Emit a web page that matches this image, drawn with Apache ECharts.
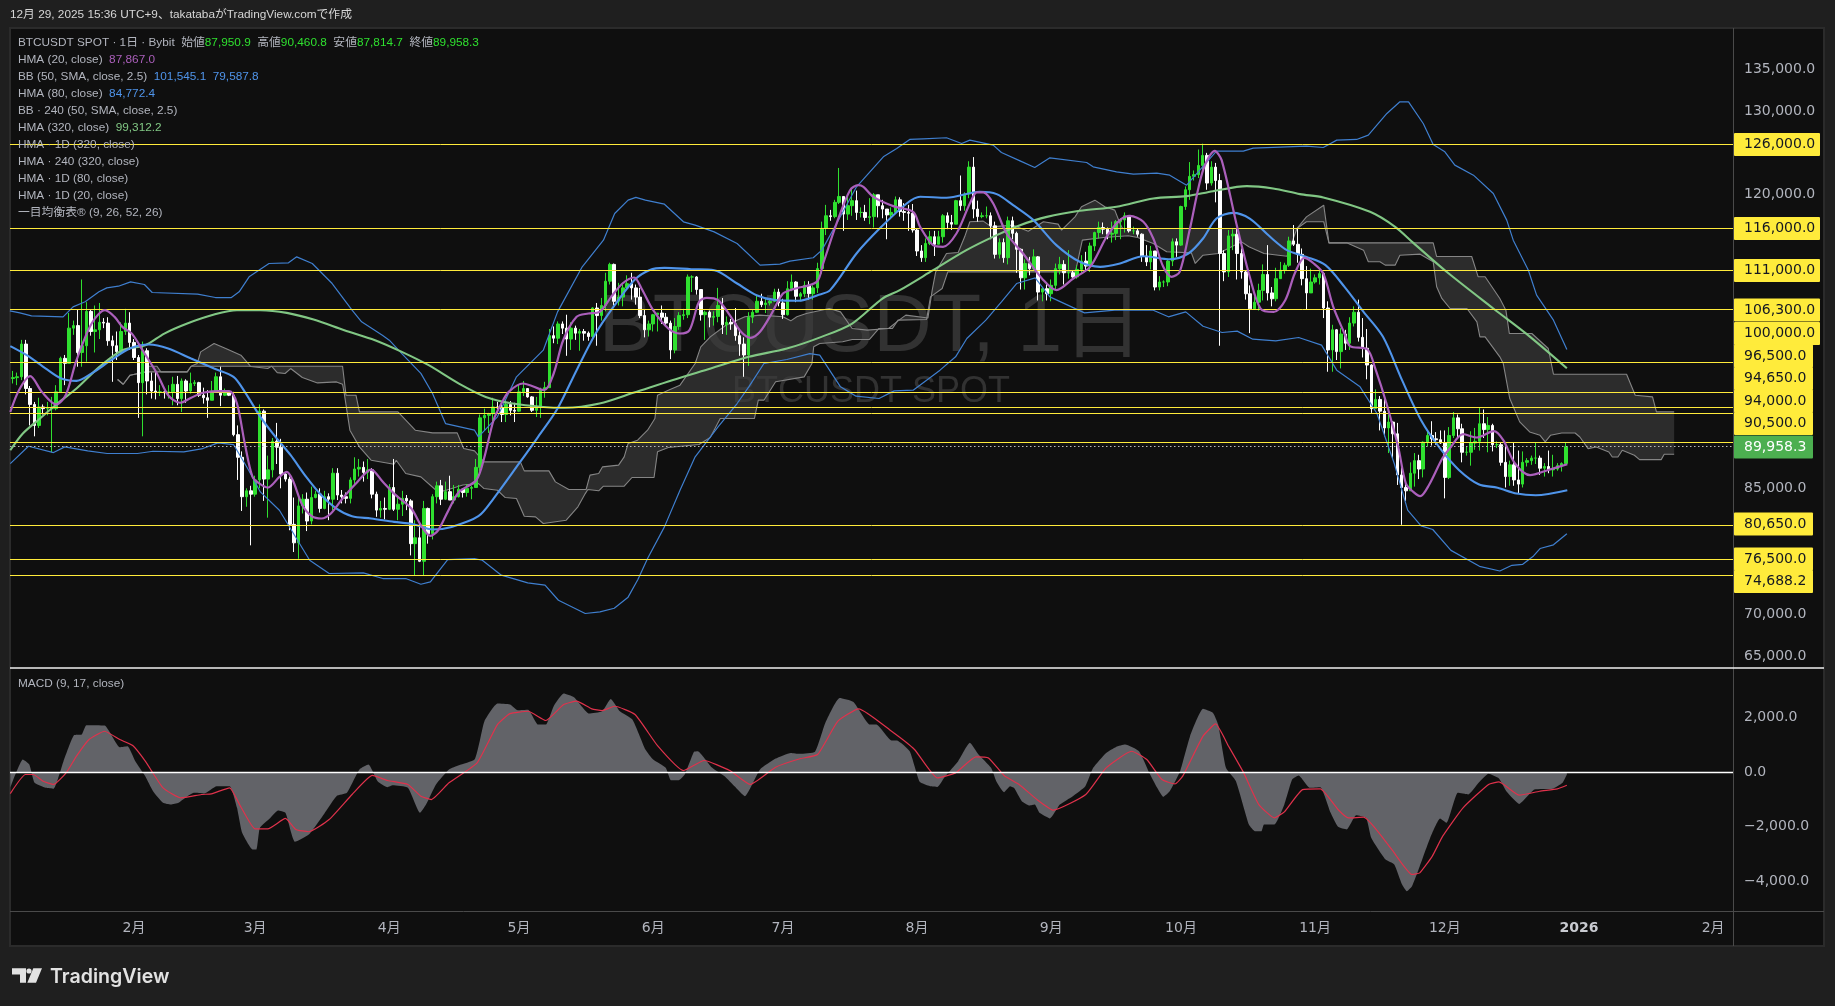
<!DOCTYPE html>
<html>
<head>
<meta charset="utf-8">
<title>BTCUSDT 1D</title>
<script src="https://cdn.jsdelivr.net/npm/echarts@6/dist/echarts.min.js"></script>
<style>html,body{margin:0;padding:0;background:#1f1f1f}#main{width:1835px;height:1006px}</style>
</head>
<body>
<div id="main"></div>
<script>
// days are counted from 2025-01-01 = 0
var firstDay = 2;
var firstOpen = 96900;
var closes = [
98100,98200,98300,102200,96900,95000,92500,94700,94500,94500,94500,96500,100500,99900,104100,104400,101200,102000,106100,103700,103900,104800,104700,102600,102000,101300,103700,104700,102400,
100600,97600,101400,97800,96600,96500,96500,96400,96500,97400,95700,97800,96600,97500,97600,96100,95800,95500,96600,98300,96100,96500,96100,91400,88700,84000,84700,84300,
86000,94200,86100,87200,90600,89900,86700,86100,80700,78500,82900,83700,81100,83900,84300,82600,84000,83700,86800,84200,84000,83800,86000,87300,87500,86900,87200,84300,82400,82600,82500,
85100,82500,83100,83800,83500,78400,79100,76300,82600,79600,84000,85300,83700,84600,83600,84000,84900,84500,85000,85100,87500,93400,93700,93900,94700,94600,93800,95000,94300,94200,
96500,96900,95900,94300,94700,96800,97000,103200,102900,104600,104100,102800,104100,103500,103700,103500,103100,106500,105600,106800,109700,111700,107300,107800,108900,109400,108900,107800,105600,103900,104600,
105700,105900,105400,104700,101500,104300,105600,105700,110200,110200,108700,105700,106000,105400,105500,106800,104500,104800,104600,103200,102200,100900,105400,106000,107300,106900,107100,107300,108400,107100,
105700,108800,109600,107900,108200,109200,108200,108900,111200,116000,117500,117400,119100,119800,117700,118700,119300,117900,117900,117300,117400,120000,118700,118300,117600,117900,119400,118000,117900,117800,115800,
113300,112500,114200,115000,114100,115000,117500,116700,116500,119300,118700,120100,123300,118300,117400,117500,117500,116300,112900,114300,112500,116900,115400,113500,110100,111800,111200,112600,108400,108800,108200,
109200,111200,111700,110700,110700,110200,111100,112100,111500,113900,115500,116100,115900,115300,115400,116800,117000,117500,115700,115700,115300,112700,112000,113300,109000,109600,109600,112100,114400,114000,
118600,120600,122200,122400,123500,124700,121400,123300,121700,113000,110800,115100,115300,113000,110800,108200,106400,107200,108600,110500,108300,107600,110000,111000,111600,114500,114100,112900,110000,108300,109600,
110100,110600,106500,101500,103900,101300,103400,102300,104700,106000,103000,101700,99700,94500,95600,94200,92200,92900,91500,86600,85100,84700,86800,88300,87300,90500,91300,90900,90800,90400,
86300,91300,93400,92100,89300,89300,90400,90600,92700,92000,92500,90200,90200,88100,86400,87800,86000,85500,88100,88300,88600,88600,87400,87600,87200,87300,87700,87950.9,89958.3
];
var highs = [
98900,99000,98800,102700,102700,97200,95300,95800,95000,95300,95900,97300,100700,100900,105900,105000,106300,109900,107200,106300,106800,107100,105300,105400,103200,103700,104800,106400,106000,
102800,100900,102500,101700,98800,99000,97300,96700,97300,98300,98400,98100,98000,98800,97900,97700,97000,96700,97800,98800,99500,96900,96700,96500,92500,89400,85000,85300,
86500,95000,94400,88900,91000,92800,90900,86800,86400,83900,84000,84300,84500,85200,84700,85000,84700,84400,87400,87400,84800,84500,86300,88700,88500,88200,88500,87400,84600,83500,83900,
85500,88500,83900,84700,84200,83700,81200,80800,83500,82700,84300,85800,86000,85800,86500,85400,85400,85000,85500,85300,88500,93800,94500,94000,95800,95300,95200,95600,95400,95200,
97400,97800,96900,96000,95900,97000,97700,104000,104300,104900,104900,105700,104800,104400,104000,104000,103700,106600,107100,107700,110700,111900,111800,109500,109300,110400,110700,109300,108900,106300,105000,
105800,105900,106800,105900,105000,105300,106000,106400,110500,110400,110300,108400,106200,106200,106100,108900,107700,105500,105200,106500,104000,103000,106000,106300,108000,108200,107700,107500,108800,108800,
107600,109700,110500,109700,108400,109700,109700,109200,111900,116800,118800,118200,119400,123200,119600,120000,120800,120500,118500,118800,119600,120200,120000,119400,118000,118500,119800,119700,119000,118800,118900,
116000,114000,114800,115700,115700,115700,117700,117900,117600,119400,122300,120300,124000,124500,119300,117900,118600,117900,116800,114800,114800,117400,117400,115600,113600,112300,112600,113500,112700,108900,109500,
109900,111800,112600,112200,113400,111000,111600,112800,113200,114300,115600,116800,116700,116100,116800,117000,117200,117900,117500,116200,116000,115400,114000,113900,113300,110300,109800,112400,114800,114800,
118700,121000,123900,122900,125400,126100,125000,124000,123800,122500,113400,115800,115900,116000,113600,111000,109200,107900,109400,111700,114000,109000,111300,112000,111900,115000,116400,116000,113600,111500,111200,
110500,111200,110800,107300,104500,104000,104100,103900,105400,106700,107500,105300,104000,99800,96800,96000,96000,93800,93000,92800,87500,85600,88100,89200,89000,90600,91900,93000,91700,91900,
91900,92300,94100,93800,92700,90000,91800,92200,94600,94400,93500,92700,90600,90500,90000,88300,90400,89500,89400,88600,88900,90500,88900,88000,89500,89000,88000,88100,90460.8
];
var lows = [
96100,97500,97300,97900,96200,92500,91200,92200,93800,93700,89300,94300,96400,97300,99900,103300,99500,99500,100100,103200,101200,102800,104100,102000,97700,100300,100900,103300,101500,
100300,93400,91200,96200,95700,95600,96000,95700,95700,94900,94900,94100,95200,96300,97200,95900,95100,93400,95500,96400,94800,96000,96000,91200,86000,82300,82800,78200,
84000,85000,83500,81500,86300,87900,85000,85800,80000,77400,76600,82000,79900,80700,83800,82100,82500,81200,82400,83600,83200,83200,83200,85300,86400,85800,86100,83800,81600,81500,81300,
82400,82300,81200,81700,82400,77000,74600,76200,74600,78400,78900,83200,83000,83600,83600,83200,83900,83900,84000,83700,85100,87000,91900,91600,92900,93900,92900,92900,93700,92900,
94100,96000,95800,94100,93500,93400,95800,97000,102300,102200,103400,100800,101500,102700,101400,102600,102600,102900,102000,105000,106100,109300,106800,106800,106700,108800,107500,106900,105300,103000,103100,
103700,103700,104600,104400,100400,101100,103900,105100,105300,108400,108100,105000,102700,104200,104400,104800,103400,103300,103900,102600,100800,98300,99600,104700,105900,106600,105900,106800,107200,106700,
105200,105600,108500,107200,107300,107800,107500,107500,108300,110600,115200,116900,117200,118900,115700,117000,117500,117000,117300,116900,116500,116100,117300,117200,114700,117100,117800,117400,116900,115700,115500,
112700,112000,112000,114000,112700,114100,114300,115900,115800,116500,118100,118100,119600,117200,116800,117200,117200,114700,112400,112400,111900,111700,114700,110700,108700,108700,110400,110900,107400,107300,107400,
107300,108600,110500,109300,110000,109900,110000,110700,110800,110800,113300,114800,115300,114700,114300,114600,114700,115500,115500,115300,115000,112000,111500,111100,108600,108600,109000,109100,111500,112600,
113900,118200,119400,121700,122000,123000,120600,121100,119100,102000,109700,110200,113400,109900,110000,107500,103500,106300,106200,107400,107400,106700,107300,110500,110600,111400,113900,111900,109200,106300,108400,
109400,109300,105300,98900,98900,100300,99300,101500,101500,104300,102500,100600,98000,94000,94500,91900,91200,89200,88600,85400,80650,83500,84700,85200,86100,86300,90000,90100,90200,90300,
83800,86100,91000,90900,88100,88900,87700,89600,89500,91000,89300,89400,89800,87700,85100,85300,85300,84400,85100,87600,87800,87900,86600,86400,86800,86400,87100,87000,87814.7
];

// indicator readings as [day, price]
var hma20 = [[2.4,94100],[4.4,96700],[7,98370],[9.7,96500],[13,95000],[15.2,96100],[17.7,100275],[21.2,104650],[24.3,106240],[26.5,105440],[28.3,104250],[30.5,103450],[33.2,101270],[36.3,98700],[38.9,96100],[41.6,95200],[44.2,95800],[46.9,96400],[50.4,96600],[53,96600],[54.8,95100],[56.6,90340],[58.4,86360],[60.2,85490],[61.9,85090],[64.6,86360],[66.3,86960],[67.7,85960],[69.9,83000],[72.1,81670],[74.3,81400],[76.5,82000],[79.2,83780],[82.3,85570],[85.8,87240],[88.5,85770],[91.1,84370],[95.1,82590],[97.3,80600],[99.5,79330],[101.3,80000],[103.5,82190],[106.1,84570],[110.1,85960],[111.9,88550],[114.1,93120],[115.9,95100],[117.6,96500],[120.9,97500],[125.8,96700],[128,98690],[130.2,102660],[133.3,105450],[136,105850],[138.6,106040],[141.3,107830],[143.9,109420],[146.6,110140],[148.3,108830],[151,106240],[154.5,104060],[157.2,103460],[159.4,103860],[161.6,107240],[163.4,107710],[166,107440],[168.7,105650],[171.3,103660],[173.5,102940],[175.7,103660],[178.4,105850],[181,108230],[183.4,108750],[188.8,109620],[190.3,111810],[193.4,116580],[196.5,120550],[198.4,121150],[199.6,120950],[201.9,119760],[206.5,118650],[211.1,117970],[212.7,116180],[215.7,114000],[218,113800],[221.1,115390],[224.2,118960],[225.8,120280],[227.3,120280],[229.6,118960],[232.7,115390],[236.5,113000],[241.2,109820],[244.2,108630],[248.1,110020],[252,111410],[255.8,114990],[258.9,116980],[261.2,117490],[264.3,116780],[266.6,114790],[268.9,111410],[270.8,110220],[272.7,110815],[275,115790],[278.1,122940],[280.8,125240],[282.4,124130],[285.8,116580],[288.9,110220],[291.4,106440],[294.4,106040],[297.1,107430],[299.3,110610],[301.5,112480],[303.7,111810],[305.9,110610],[308.2,106640],[310.8,103460],[312.1,101950],[316.1,101550],[317.9,99290],[320.5,95110],[323.2,89950],[325,85570],[326.7,84580],[328.3,84060],[330.3,85370],[333.4,88550],[335.1,89750],[338.2,91450],[341.3,91060],[345.3,91810],[347.5,90740],[350.2,87960],[353.7,86570],[357.7,87160],[362.3,87867]];
var hma80 = [[2.4,101950],[6.2,100870],[10.6,99280],[14.2,98090],[17.7,97810],[21.2,98700],[25.7,100275],[30,101670],[34.5,102140],[38.9,101670],[44.2,100470],[49.5,99280],[54,98290],[56.6,96500],[60.2,93520],[63.7,91130],[67.2,88950],[70.8,86360],[74.3,84180],[77.8,82590],[81.4,81670],[85.8,81400],[91.1,81000],[95.5,80720],[100,80080],[104.4,80400],[110.6,81670],[114.1,83780],[120,87960],[124.4,91140],[128.9,94520],[133.3,99090],[137.7,103460],[142.1,106840],[146.6,109820],[150.1,111010],[153.6,111290],[159.8,111130],[165.1,111010],[170.4,109420],[174.9,108030],[179.3,107435],[184.6,107360],[189,108030],[191.9,108630],[198,113000],[203.4,116000],[209.6,118960],[212.7,119760],[218.8,119640],[226.5,120360],[230.4,120080],[234.2,118770],[238.9,116980],[244.2,114000],[249.6,112010],[254.3,111410],[258.9,111810],[264.3,112680],[270.4,112320],[274.7,113000],[278.1,114790],[281.2,117170],[285,117850],[288.9,117170],[293.6,114990],[297.5,113400],[302,112600],[306.4,111610],[310.8,109020],[315.2,106040],[319.7,103060],[324.1,97900],[328.5,93120],[332.9,89750],[337.3,87160],[341.8,85490],[346.2,85060],[350.6,84380],[355,84180],[362.3,84772]];
var hma320 = [[2.4,89540],[5.3,91530],[8.8,93120],[13.3,95110],[17.7,96900],[23,99480],[28.3,101470],[33.6,102060],[38,103450],[43.3,104650],[49.5,105720],[54.8,106240],[60.2,106240],[66.3,105920],[72.5,105120],[79.6,103850],[86.7,102660],[92.9,101270],[99.1,99680],[106.1,97490],[112.3,95900],[118.5,95110],[125.6,94700],[130.6,94600],[138.6,95110],[146.6,96420],[155.4,97900],[164.3,99290],[173.1,100680],[181.9,101670],[189.9,103060],[197,104650],[204,107630],[208,108630],[215.7,111010],[223.4,113400],[230.4,115190],[235.8,116380],[242,117370],[249.6,118090],[258.1,118570],[266.6,119560],[274.3,119840],[280.4,120430],[288.2,121030],[294.3,120750],[300.5,120080],[305.9,119680],[316.7,117970],[322.5,116180],[326.7,114270],[334.4,110820],[345.2,106440],[353.7,103060],[362.2,99312]];
var bbUpper = [[2.3,106160],[4.6,105925],[7.3,105570],[14.6,105450],[16.9,106640],[19.7,107240],[22.9,108430],[24.7,108905],[27.4,109100],[30.2,109620],[33.4,109300],[35.2,108350],[45.7,108150],[49.8,107750],[53.5,107750],[55.3,108430],[57.6,110220],[62.2,111810],[66.7,111890],[68.6,112600],[72.2,111810],[76.8,109420],[81.4,106240],[83.6,104850],[88.4,103260],[90,102660],[92.9,101070],[97.3,98700],[100,96300],[103,92720],[109.7,91930],[110.6,91130],[115,93520],[119.4,98290],[125.6,101470],[128.9,106040],[134.6,111410],[139.5,114590],[142.1,117770],[145.2,119360],[147,119700],[149.2,119360],[153.6,118880],[158,116780],[160.7,116380],[165.1,115580],[170.4,114190],[175.7,111610],[180.3,111730],[182.6,112090],[188,112490],[190,113400],[193.4,116580],[198,120950],[201.1,122740],[204.2,124530],[207.3,125520],[210.3,126600],[213.4,126680],[218.8,126800],[222.3,126120],[224.2,126520],[229.6,125920],[231.5,125050],[235.8,124050],[239.2,123260],[242.7,124410],[251.2,123850],[252.7,123340],[258.1,122740],[262,122460],[267.4,122580],[270.4,122340],[274.3,121150],[281.2,125200],[287.4,125200],[289.7,125560],[295.9,125680],[302,125800],[305.9,125640],[309,126520],[313.6,126600],[316.3,127110],[320.6,129700],[323.6,131090],[325.6,131090],[329,128500],[331.3,126000],[334,125130],[336.3,123540],[340.6,122340],[345.2,120160],[348.3,116980],[349.8,114590],[353.3,111010],[355.2,108030],[359.1,105050],[362.2,101545]];
var bbLower = [[2.4,87950],[6.6,90020],[12.4,89260],[15,89940],[20.3,89460],[24.8,89150],[31.8,89150],[35.4,89420],[42.5,89340],[46.9,89740],[50.4,90420],[54,90220],[57.5,87160],[60.2,84570],[64.6,82390],[68.1,79410],[71.6,76420],[76.1,74840],[84,74920],[88.5,74240],[93.8,74240],[97.3,73560],[99.5,73840],[103.5,76500],[109.7,76620],[111.5,76420],[115.9,74640],[122,73720],[126,73450],[129.1,71650],[135.3,70070],[138.7,70270],[142,70700],[145.2,72020],[147.5,74160],[149.7,76630],[153.6,80400],[157.2,84780],[160.7,88750],[166,92330],[170.4,95110],[173.1,97100],[176.6,99880],[181.9,100360],[187.2,101070],[189.5,100880],[194.3,97100],[197.9,95990],[203.2,95710],[206.7,96620],[211.1,96700],[217.3,99090],[220.9,100680],[223.5,102860],[227.9,105050],[231.5,107240],[235,109420],[239.3,110100],[242.7,107830],[250.7,105920],[257.7,106240],[266.6,106240],[270.1,105450],[274.1,106040],[278.1,104330],[282.5,103580],[286,103740],[289.6,102780],[294.9,102590],[300.2,102980],[305.5,102070],[309,99090],[314.4,97100],[318.3,93920],[322.3,87960],[325.4,82390],[328.5,80520],[331.2,80090],[335.4,77600],[342,75700],[346.7,75140],[349.5,75820],[352,75940],[354.5,76940],[356,77820],[359.1,78260],[362.2,79587]];
var cloudTop = [[27.2,97970],[28.5,97410],[30.1,98490],[33.6,98880],[34.1,99560],[36.3,99560],[37.2,98880],[43.3,98880],[44.2,99560],[45.6,99880],[46.4,101270],[49.5,102260],[52.2,101670],[55.7,100870],[57.9,99560],[79.2,99560],[80,96100],[82.3,96100],[83.1,94110],[92,94110],[96,91930],[100,91610],[105.7,91610],[107.2,89740],[109.7,89460],[111.9,88150],[120.3,88150],[121.2,87080],[126.9,87080],[128.4,85770],[131.5,84860],[135.5,84860],[136.4,86570],[138.4,86770],[139.3,87560],[143,87760],[144.3,88750],[145.2,90340],[147.4,90740],[149.7,91930],[151.4,93320],[152,96100],[154.5,96700],[157.2,97300],[160.7,99880],[162,101870],[164.2,103060],[167.8,104450],[172.2,105450],[175.7,105650],[181,105450],[182.8,104970],[184.2,105450],[186.4,105850],[191.7,106440],[194.3,106040],[197,104060],[200.5,103860],[205.4,104060],[207.6,104970],[209.4,105650],[214.5,105300],[215.5,108630],[216.3,110800],[218.8,113000],[221.5,113120],[223,114990],[224.2,116780],[227.3,116860],[229.2,116180],[234.2,116380],[237.7,115660],[241.2,116780],[244.6,116500],[245.4,115790],[248.5,117370],[250,118570],[253.1,119360],[255.4,118570],[257.7,118170],[258.9,116580],[259.5,115990],[299.8,115980],[302,117370],[306,118760],[307.2,114270],[331.3,114270],[332.1,112640],[340.2,112640],[341.7,110220],[343.3,110220],[346.7,107640],[348.1,106240],[348.9,103460],[354.1,103460],[357.9,101670],[359.1,98600],[376,98600],[378,96100],[382,95900],[382.9,94110],[387,94110]];
var cloudBottom = [[27.2,97970],[28.5,97410],[30.1,98490],[33.6,98880],[43.3,98880],[44.2,99560],[57.5,99560],[61.9,99280],[62.8,99560],[64.1,98800],[65.9,98690],[67.2,99280],[69.9,98210],[73.4,97570],[77.8,97690],[79.2,97410],[79.6,96300],[80.9,91930],[83.1,89940],[85.8,88350],[91.1,87870],[91.6,88350],[93.8,86760],[97.3,86360],[100.8,84770],[102.6,84690],[107,85400],[110.6,85570],[111.9,84970],[115,84770],[116.8,83900],[119.4,83780],[121.2,81670],[123.8,81590],[125.6,80800],[130.9,81200],[133.6,82790],[135.3,84370],[135.9,84860],[138.4,84700],[139.5,85250],[144.3,85250],[146.1,86290],[151.2,86290],[152,89350],[154.5,89870],[161.6,90220],[164.2,91060],[166.5,93320],[174.4,93320],[175.3,95510],[176.6,95510],[179.3,97700],[185.9,98290],[187.7,99880],[188.1,101870],[189.5,102270],[194.8,102470],[197,102750],[201,102750],[203.2,104060],[206.3,104060],[207.6,105050],[214.2,105130],[215.1,107830],[217.8,108830],[219.1,110815],[248.6,110815],[250.2,114590],[255.1,114910],[260.8,115110],[263,114910],[266.6,114190],[269.7,113200],[275.4,113080],[276.3,111810],[278.1,112800],[281.6,113000],[287,114390],[288.7,113800],[292.2,113000],[297.5,112680],[299.8,115980],[302,116780],[306,116780],[307.2,114270],[311.3,114270],[315.2,113400],[316.3,112010],[319,112010],[320.2,111610],[322.5,111610],[323.6,112800],[328.3,112920],[331.3,112010],[332.1,109030],[333.3,107640],[335.2,106440],[339.1,106440],[341.4,104850],[342.1,103060],[343.3,103060],[346.7,100680],[347.5,99880],[349,95700],[351.3,92920],[353.6,91720],[356,91320],[357.2,90530],[358.4,91320],[361,91600],[364.1,91600],[365.2,91120],[367.1,89730],[369,89930],[371.9,89330],[372.7,88740],[374,88740],[375,89530],[377.8,88940],[379,88420],[384,88420],[384.7,89060],[387,89060]];
var macdArea = [[2.4,-575],[5.3,465],[6.8,280],[8,-390],[10.6,-575],[12.4,-610],[14.7,405],[17.1,1360],[18.9,1385],[20,1730],[24.2,1715],[27.7,920],[29.5,955],[31.3,405],[33.6,-150],[35.4,-700],[37.7,-1125],[39.5,-1190],[41.3,-1125],[44.8,-760],[47.2,-785],[50.1,-515],[53.1,-515],[54.8,-1310],[56,-2230],[58.4,-2840],[59.3,-2840],[60.1,-2045],[62.5,-1680],[64.3,-1410],[66,-1495],[68.2,-2560],[71.4,-2290],[74.3,-1680],[77.8,-880],[80.2,-760],[83.1,100],[85.2,280],[87.3,-330],[89.6,-550],[90.8,-480],[94.3,-575],[97.1,-1495],[98.5,-1190],[100.8,-450],[103.8,100],[106.1,255],[109.7,465],[110.9,1140],[112,1875],[115,2525],[117.9,2490],[119.7,2280],[122.1,2300],[124.4,1750],[126.2,1750],[128,2425],[130.3,2890],[132.7,2755],[136.2,2155],[139.2,2240],[141.2,2695],[143.3,2240],[146.2,1935],[149.2,835],[151,465],[153.9,160],[155.1,-295],[156.9,-295],[158.3,-85],[160.4,745],[161.3,770],[164.5,185],[167.5,-150],[169.8,-515],[172.2,-880],[175.7,100],[179.3,500],[182.8,710],[184.9,675],[188.4,750],[190.8,1815],[194.1,2730],[197.3,2585],[201.1,1750],[202.6,1750],[206.1,1165],[207.3,1165],[210.3,770],[212.6,-355],[215,-515],[216.7,-540],[218.5,-150],[221.5,405],[224.2,1080],[226.2,650],[229.1,160],[230.3,-330],[232.1,-735],[233.5,-515],[234.4,-575],[236.2,-1065],[238,-1225],[239.2,-1190],[240.3,-1495],[242.7,-1700],[245,-1190],[248,-880],[250.9,-515],[252.7,160],[255.7,710],[258,930],[260.1,1015],[263.3,770],[265.7,-25],[267.5,-575],[268.9,-905],[270.4,-700],[272.8,35],[275.1,1325],[278.1,2330],[280.4,2180],[281.6,1750],[283.4,160],[285.7,-330],[288.7,-1925],[290.1,-2170],[291.6,-2170],[292.2,-1925],[294.6,-1925],[296.9,-1190],[298.7,-270],[300.2,-120],[302.8,-575],[305.2,-550],[307.6,-1495],[309.3,-2010],[311.3,-2105],[313.5,-1580],[315.8,-1680],[317,-2415],[320.3,-3210],[322.3,-3390],[324.1,-4130],[325.2,-4375],[326.4,-4190],[328.2,-3455],[330.6,-2415],[332.9,-1700],[334.4,-1860],[337,-760],[339.4,-820],[341.8,-390],[344.1,-60],[346.5,-230],[348.3,-720],[351.2,-1165],[354.7,-640],[358.9,-610],[361.2,-390],[362.2,-85]];
var macdSignal = [[2.4,-785],[5.9,-85],[7.7,-85],[10,-330],[12.4,-450],[15.3,-25],[17.7,590],[20.6,1200],[24.2,1505],[27.7,1200],[30.7,980],[33.6,405],[37.7,-575],[41.9,-945],[46.6,-820],[48.9,-795],[53.1,-575],[55.4,-1190],[59,-2085],[61.9,-2085],[66,-1700],[68.4,-2105],[71.4,-2190],[76.1,-1740],[81.4,-820],[86.1,-120],[89.6,-305],[94.3,-450],[97.3,-880],[99.7,-1005],[103.8,-390],[110.3,345],[115,1750],[117.9,2155],[122.1,2240],[126.2,1900],[130.3,2485],[133.3,2610],[136.8,2330],[139.2,2265],[142.1,2425],[146.8,2120],[152.1,955],[158,60],[162.8,430],[168.7,60],[173.4,-450],[179.3,185],[184.9,495],[189,650],[193.7,1875],[198.5,2330],[206.1,1505],[211.4,835],[216.7,-210],[220.9,-25],[225.6,565],[228.5,525],[232.1,-120],[235.6,-450],[239.7,-1005],[243.5,-1395],[251,-820],[255.7,160],[261.6,770],[265.1,465],[268.6,-270],[271.6,-430],[273.4,-145],[278.1,1325],[281,1775],[284,955],[287.5,-25],[291,-1190],[294.6,-1680],[296.9,-1460],[301.1,-640],[305.2,-610],[309.3,-1370],[311.7,-1680],[315.2,-1655],[321.7,-2840],[326.4,-3760],[328.2,-3700],[331.1,-3085],[333.5,-2350],[338.2,-1310],[344.1,-450],[346.5,-355],[351.2,-845],[355.9,-700],[360,-610],[362.2,-480]];

var levels = [126000,116000,111000,106300,100000,96500,94650,94000,90500,80650,76500,74688.2];
var lastPrice = 89958.3;
var priceTicks = [65000,70000,85000,120000,130000,135000];
var macdTicks = [2000,0,-2000,-4000];
var monthDays = [31,59,90,120,151,181,212,243,273,304,334,365,396];
var monthLabels = ['2月','3月','4月','5月','6月','7月','8月','9月','10月','11月','12月','2026','2月'];

// legend rows, {x|...} picks the colour
var legendRows = [
  '{l|BTCUSDT SPOT · 1日 · Bybit}  {l|始値}{g|87,950.9}  {l|高値}{g|90,460.8}  {l|安値}{g|87,814.7}  {l|終値}{g|89,958.3}',
  '{l|HMA (20, close)}  {p|87,867.0}',
  '{l|BB (50, SMA, close, 2.5)}  {b|101,545.1}  {b|79,587.8}',
  '{l|HMA (80, close)}  {b|84,772.4}',
  '{l|BB · 240 (50, SMA, close, 2.5)}',
  '{l|HMA (320, close)}  {m|99,312.2}',
  '{l|HMA · 1D (320, close)}',
  '{l|HMA · 240 (320, close)}',
  '{l|HMA · 1D (80, close)}',
  '{l|HMA · 1D (20, close)}',
  '{l|一目均衡表® (9, 26, 52, 26)}'
];

var uiFont = '"Liberation Sans","Noto Sans CJK JP",sans-serif';
var axisFont = '"DejaVu Sans","Noto Sans CJK JP",sans-serif';
var GREY = '#b2b5be', YELLOW = '#ffeb3b';
var legendFont = '11.8px ' + uiFont;

function fmt(v) {
  var s = Math.abs(v).toLocaleString('en-US', {minimumFractionDigits: 1, maximumFractionDigits: 1});
  return (v < 0 ? '\u2212' : '') + s;
}

var candles = closes.map(function (c, i) {
  var open = i ? closes[i - 1] : firstOpen;
  return [firstDay + i, open, c, lows[i], highs[i]];
});

function lineOf(name, data, color, width, smooth, axisIdx) {
  return {
    name: name, type: 'line', data: data, showSymbol: false, smooth: smooth || false,
    xAxisIndex: axisIdx || 0, yAxisIndex: axisIdx || 0, silent: true,
    lineStyle: {color: color, width: width}, clip: true
  };
}

var levelLines = levels.map(function (v) {
  return {yAxis: v, lineStyle: {color: YELLOW, width: 1, type: 'solid', opacity: 1}};
});
levelLines.push({yAxis: lastPrice, lineStyle: {color: '#b8b8b8', width: 1, type: [1.5, 2.5]}});

var hma20Series = lineOf('HMA 20', hma20, '#ab5fbb', 2.2, 0.3);
hma20Series.z = 5;
hma20Series.markLine = {silent: true, symbol: 'none', label: {show: false}, animation: false, data: levelLines};

var macdSeries = lineOf('MACD', macdArea, '#626368', 0, 0.15, 1);
macdSeries.areaStyle = {color: '#626368', opacity: 1, origin: 0};
macdSeries.markLine = {silent: true, symbol: 'none', label: {show: false}, animation: false,
  data: [{yAxis: 0, lineStyle: {color: '#ffffff', width: 1.4, type: 'solid'}}]};

var series = [
  {
    name: 'cloud', type: 'custom', data: [[cloudTop[0][0]]], clip: true, silent: true, z: 1,
    renderItem: function (params, api) {
      var pts = cloudTop.map(function (p) { return api.coord(p); })
        .concat(cloudBottom.slice().reverse().map(function (p) { return api.coord(p); }));
      return {type: 'polygon', shape: {points: pts}, style: {fill: 'rgba(60,60,60,0.65)'}};
    }
  },
  Object.assign(lineOf('cloud top', cloudTop, '#858585', 1.1), {z: 1}),
  Object.assign(lineOf('cloud bottom', cloudBottom, '#858585', 1.1), {z: 1}),
  {
    name: 'BTCUSDT', type: 'candlestick', data: candles, barWidth: 3, silent: true, z: 2,
    encode: {x: 0, y: [1, 2, 3, 4]}, clip: true,
    itemStyle: {color: '#2fe02f', color0: '#ffffff', borderColor: '#2fe02f', borderColor0: '#ffffff', borderWidth: 1}
  },
  Object.assign(lineOf('BB upper', bbUpper, '#3f7fcf', 1.2), {z: 3}),
  Object.assign(lineOf('BB lower', bbLower, '#3f7fcf', 1.2), {z: 3}),
  Object.assign(lineOf('HMA 320', hma320, '#81c784', 2.1, 0.3), {z: 4}),
  Object.assign(lineOf('HMA 80', hma80, '#4f94ea', 2.1, 0.3), {z: 4}),
  hma20Series,
  macdSeries,
  Object.assign(lineOf('Signal', macdSignal, '#e0324c', 1.2, 0.15, 1), {z: 4})
];

// price tags: colliding ones are stacked the way TradingView does it
var tagCentres = [144.5, 228.5, 270.5, 310, 333.5, 356, 378.5, 401, 423.5, 524, 559, 581.5];
var graphics = [
  {type: 'rect', shape: {x: 10, y: 28, width: 1814, height: 918}, style: {fill: '#0f0f0f', stroke: '#2b2b2b', lineWidth: 2}, z: -5, silent: true},
  {type: 'text', style: {x: 871, y: 329, text: 'BTCUSDT, 1日', font: '81px ' + uiFont, fill: '#323232', align: 'center', verticalAlign: 'middle'}, z: -4, silent: true},
  {type: 'text', style: {x: 871, y: 392, text: 'BTCUSDT SPOT', font: '36px ' + uiFont, fill: '#323232', align: 'center', verticalAlign: 'middle'}, z: -4, silent: true},
  {type: 'line', shape: {x1: 1733.5, y1: 28, x2: 1733.5, y2: 946}, style: {stroke: '#4a4a4a', lineWidth: 1}, z: 20, silent: true},
  {type: 'line', shape: {x1: 10, y1: 911.5, x2: 1824, y2: 911.5}, style: {stroke: '#4a4a4a', lineWidth: 1}, z: 20, silent: true},
  {type: 'line', shape: {x1: 10, y1: 668, x2: 1824, y2: 668}, style: {stroke: '#f0f0f0', lineWidth: 1.4}, z: 20, silent: true},
  {type: 'text', style: {x: 10, y: 15, text: '12月 29, 2025 15:36 UTC+9、takatabaがTradingView.comで作成', font: legendFont, fill: '#d6d6d6', verticalAlign: 'middle'}, silent: true},
  {type: 'text', style: {x: 18, y: 684, text: 'MACD (9, 17, close)', font: legendFont, fill: GREY, verticalAlign: 'middle'}, z: 10, silent: true},
  // TradingView mark and wordmark
  {type: 'polygon', shape: {points: [[12, 968.3], [26, 968.3], [26, 982.7], [20, 982.7], [20, 974.5], [12, 974.5]]}, style: {fill: '#e2e2e2'}, silent: true},
  {type: 'circle', shape: {cx: 29, cy: 971, r: 2.6}, style: {fill: '#e2e2e2'}, silent: true},
  {type: 'polygon', shape: {points: [[33.3, 968.3], [42, 968.3], [36, 982.7], [27.3, 982.7]]}, style: {fill: '#e2e2e2'}, silent: true},
  {type: 'text', style: {x: 50, y: 977, text: 'TradingView', font: '600 19.6px Inter,' + uiFont, fill: '#e2e2e2', verticalAlign: 'middle'}, silent: true}
];

legendRows.forEach(function (row, i) {
  graphics.push({
    type: 'text', z: 10, silent: true,
    style: {
      x: 18, y: 43 + i * 17, text: row, font: legendFont, verticalAlign: 'middle',
      rich: {
        l: {fill: GREY, font: legendFont},
        g: {fill: '#2fe02f', font: legendFont},
        p: {fill: '#ab5fbb', font: legendFont},
        b: {fill: '#4f94ea', font: legendFont},
        m: {fill: '#81c784', font: legendFont}
      }
    }
  });
});

levels.forEach(function (v, i) {
  var w = v >= 100000 ? 86 : 79;
  graphics.push({type: 'rect', z: 30, silent: true, shape: {x: 1734, y: tagCentres[i] - 11.5, width: w, height: 23, r: 1}, style: {fill: YELLOW}});
  graphics.push({type: 'text', z: 31, silent: true, style: {x: 1744, y: tagCentres[i], text: fmt(v), font: '14px ' + axisFont, fill: '#131722', verticalAlign: 'middle'}});
});
graphics.push({type: 'rect', z: 30, silent: true, shape: {x: 1734, y: 435.5, width: 79, height: 23, r: 1}, style: {fill: '#4caf50'}});
graphics.push({type: 'text', z: 31, silent: true, style: {x: 1744, y: 447, text: fmt(lastPrice), font: '14px ' + axisFont, fill: '#ffffff', verticalAlign: 'middle'}});

var option = {
  backgroundColor: '#1f1f1f',
  animation: false,
  graphic: {elements: graphics},
  grid: [
    {left: 10, width: 1723, top: 28, height: 640},
    {left: 10, width: 1723, top: 668, height: 243}
  ],
  xAxis: [
    {type: 'value', gridIndex: 0, min: 2.33, max: 400.6, show: false, splitLine: {show: false}},
    {
      type: 'value', gridIndex: 1, min: 2.33, max: 400.6,
      axisLine: {show: false}, axisTick: {show: false}, splitLine: {show: false},
      axisLabel: {
        margin: 10, color: GREY, fontSize: 14, fontFamily: axisFont, customValues: monthDays,
        formatter: function (v) {
          var t = monthLabels[monthDays.indexOf(v)];
          return t === '2026' ? '{y|2026}' : t;
        },
        rich: {y: {fontWeight: 'bold', fontSize: 14, fontFamily: axisFont, color: '#c8cad0'}}
      }
    }
  ],
  yAxis: [
    {
      type: 'value', gridIndex: 0, position: 'right', min: 63573, max: 139890,
      axisLine: {show: false}, axisTick: {show: false}, splitLine: {show: false},
      axisLabel: {margin: 11, color: GREY, fontSize: 14, fontFamily: axisFont, customValues: priceTicks, formatter: fmt}
    },
    {
      type: 'value', gridIndex: 1, position: 'right', min: -5103, max: 3831,
      axisLine: {show: false}, axisTick: {show: false}, splitLine: {show: false},
      axisLabel: {margin: 11, color: GREY, fontSize: 14, fontFamily: axisFont, customValues: macdTicks, formatter: fmt}
    }
  ],
  series: series
};

var chart = echarts.init(document.getElementById('main'));
chart.setOption(option);
</script>
</body>
</html>
